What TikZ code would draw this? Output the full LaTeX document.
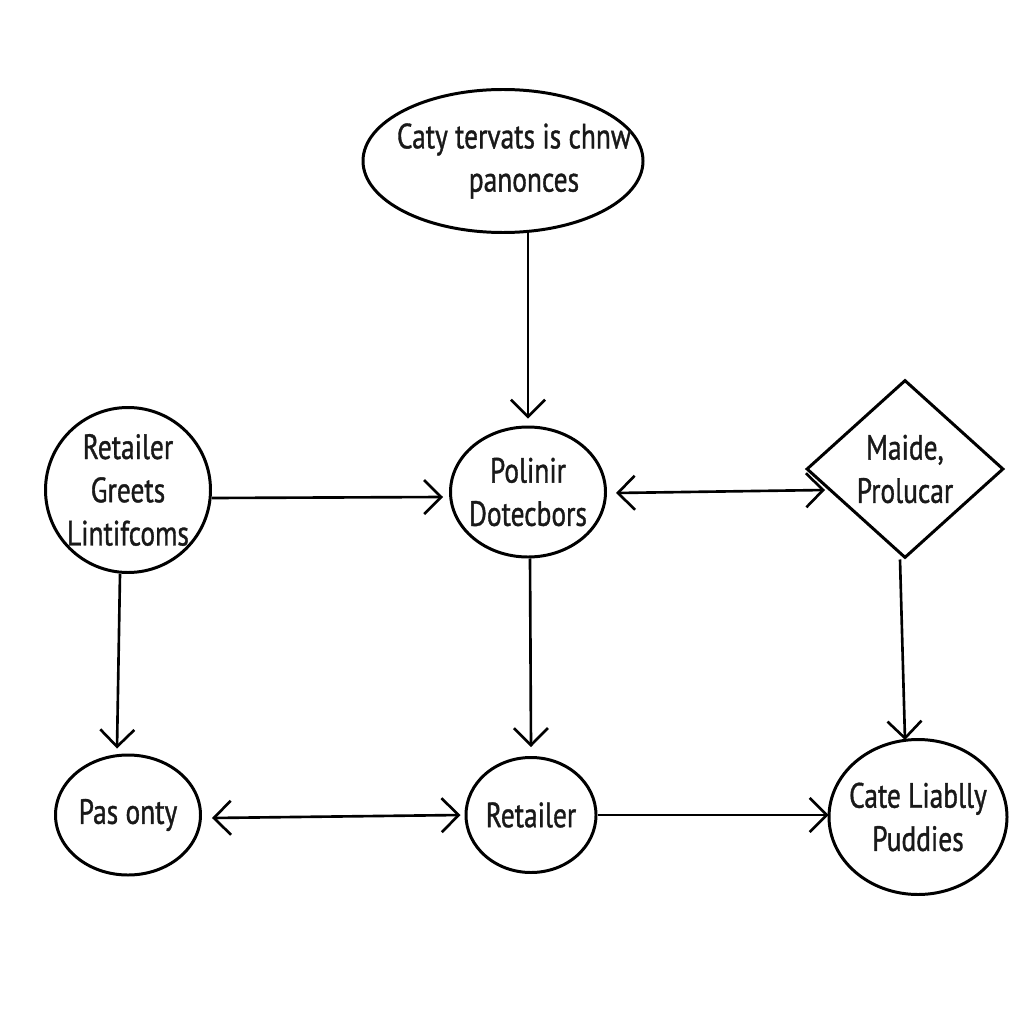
\documentclass[tikz,border=0pt]{standalone}
\usepackage{fontspec}
\setmainfont{PT Sans}[FakeStretch=0.78,FakeBold=1]
\usetikzlibrary{shapes.geometric,arrows.meta,calc}
\begin{document}
\begin{tikzpicture}[x=0.1mm,y=-0.1mm,
  every node/.style={font=\fontsize{10}{12.3}\selectfont, align=center, text=black!90},
  blob/.style={draw, ellipse, line width=0.85pt, inner sep=-5mm},
  dia/.style={draw, diamond, line width=0.85pt, inner sep=-5mm},
  conn/.style={line width=0.75pt, -{Straight Barb[length=1.7mm,width=3.4mm]}},
  bconn/.style={line width=0.75pt, {Straight Barb[length=1.7mm,width=3.4mm]}-{Straight Barb[length=1.7mm,width=3.4mm]}}]
\useasboundingbox (0,0) rectangle (1024,1024);
\node[blob, minimum width=280*0.1mm, minimum height=143*0.1mm] (top) at (503,161) {\hspace*{2.2mm}Caty tervats is chnw\\\hspace*{4.2mm}panonces};
\node[blob, minimum width=165*0.1mm, minimum height=165*0.1mm] (rg) at (128,490) {Retailer\\Greets\\Lintifcoms};
\node[blob, minimum width=155*0.1mm, minimum height=130*0.1mm] (pd) at (528,492) {Polinir\\Dotecbors};
\node[dia, minimum width=197*0.1mm, minimum height=178*0.1mm] (mp) at (905,469) {Maide,\\Prolucar};
\node[blob, minimum width=145*0.1mm, minimum height=120*0.1mm] (po) at (128,815) {Pas onty};
\node[blob, minimum width=130*0.1mm, minimum height=115*0.1mm] (rt) at (531,815) {Retailer};
\node[blob, minimum width=178*0.1mm, minimum height=155*0.1mm] (cl) at (918,817) {Cate Liablly\\Puddies};
\draw[conn] ($(top.south)+(25,-1)$) -- ($(pd.north)+(0,-7)$);
\draw[conn] ($(rg.east)+(0,8)$) -- ($(pd.west)+(-6,5)$);
\draw[bconn] ($(pd.east)+(9,1)$) -- ($(mp.west)+(20,21)$);
\draw[conn] ($(rg.south)+(-8,0)$) -- ($(po.north)+(-11,-5)$);
\draw[conn] ($(pd.south)+(2,0)$) -- ($(rt.north)+(0,-9)$);
\draw[conn] ($(mp.south)+(-5,0)$) -- ($(cl.north)+(-13,2)$);
\draw[bconn] ($(po.east)+(10,3)$) -- ($(rt.west)+(-4,0)$);
\draw[conn] (rt.east) -- ($(cl.west)+(1,-2)$);
\end{tikzpicture}
\end{document}
